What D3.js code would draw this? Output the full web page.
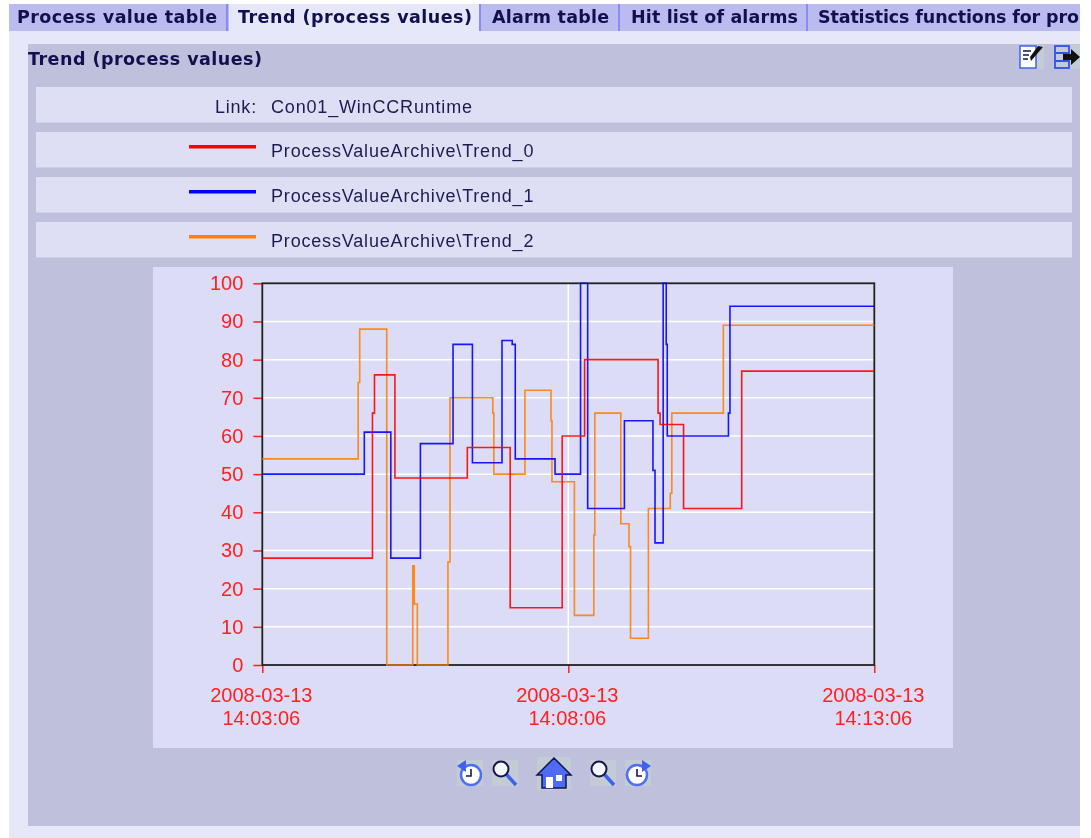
<!DOCTYPE html>
<html>
<head>
<meta charset="utf-8">
<script src="https://cdn.jsdelivr.net/npm/d3@7"></script>
<style>
  body { margin: 0; background: #fff; }
  svg { display: block; filter: blur(0.35px); }
  .tab { font: bold 17.5px "DejaVu Sans", sans-serif; fill: #10104f; }
  .row { font: 18px "Liberation Sans", sans-serif; fill: #1c1c50; letter-spacing: 0.82px; }
  .axis text { font: 20px "Liberation Sans", sans-serif; fill: #ff2020; }
  .axis line { stroke: #ff2020; stroke-width: 1.5; }
  .axis path { display: none; }
</style>
</head>
<body>
<svg id="chart" width="1080" height="838"></svg>
<script>
const tabNames = ['Process value table', 'Trend (process values)', 'Alarm table', 'Hit list of alarms', 'Statistics functions for pro'];
const tabStarts = [17, 238, 492, 631, 818];
const tabEnds = [228, 481, 620, 808, 1080];
const tabTextWidths = [200, 234, 117, 167, 261];

const seriesNames = ['ProcessValueArchive\\Trend_0', 'ProcessValueArchive\\Trend_1', 'ProcessValueArchive\\Trend_2'];
const seriesColors = ['#ff0000', '#0000ff', '#ff8000'];

const yTicks = [0, 10, 20, 30, 40, 50, 60, 70, 80, 90, 100];

// seconds after the start of the window, and the value from then on
const trend0Times = [0, 108, 110, 130, 201, 243, 294, 316, 388, 390, 413, 470, 600];
const trend0Values = [28, 66, 76, 49, 57, 15, 60, 80, 66, 63, 41, 77, 77];

const trend1Times = [0, 100, 126, 155, 187, 206, 235, 245, 248, 287, 312, 319, 355, 383, 385, 393, 396, 397, 457, 458.5, 600];
const trend1Values = [50, 61, 28, 58, 84, 53, 85, 84, 54, 50, 100, 41, 64, 51, 32, 100, 84, 60, 66, 94, 94];

const trend2Times = [0, 94, 95.5, 122, 147.5, 149, 152, 182, 184, 226, 227, 257.5, 283, 284, 306, 325, 326, 351.5, 359.5, 361, 378.5, 400, 401.5, 452, 600];
const trend2Values = [54, 74, 88, 0, 26, 16, 0, 27, 70, 66, 50, 72, 64, 48, 13, 34, 66, 37, 31, 7, 41, 45, 66, 89, 89];

const startTime = new Date(2008, 2, 13, 14, 3, 6);
const timeTicks = [0, 300, 600].map(s => d3.timeSecond.offset(startTime, s));

const svg = d3.select('#chart');

// page + tabs
svg.append('rect').attr('x', 9).attr('y', 4).attr('width', 1071).attr('height', 834).attr('fill', '#e6e7f9');
tabNames.forEach((name, i) => {
    const left = i == 0 ? 9 : tabEnds[i - 1];
    if (i != 1) {
        svg.append('rect').attr('x', left).attr('y', 4).attr('width', tabEnds[i] - left).attr('height', 27).attr('fill', '#babbee');
    }
    if (i < 4) {
        svg.append('rect').attr('x', tabEnds[i] - 2).attr('y', 4).attr('width', 2.5).attr('height', 27).attr('fill', '#8a8cf2');
    }
    svg.append('text').attr('class', 'tab').attr('x', tabStarts[i]).attr('y', 22.5)
        .attr('textLength', tabTextWidths[i]).attr('lengthAdjust', 'spacing').text(name);
});

// grey panel
svg.append('rect').attr('x', 28).attr('y', 44).attr('width', 1052).attr('height', 782).attr('fill', '#bfc0dc');
svg.append('text').attr('class', 'tab').attr('x', 28).attr('y', 64.5)
    .attr('textLength', tabTextWidths[1]).attr('lengthAdjust', 'spacing').text('Trend (process values)');

// link and legend rows
const rowTops = [87, 132, 177, 222];
rowTops.forEach(top => {
    svg.append('rect').attr('x', 36).attr('y', top).attr('width', 1036).attr('height', 35.5).attr('fill', '#dedff5');
});
svg.append('text').attr('class', 'row').attr('x', 257).attr('y', 112.5).attr('text-anchor', 'end').text('Link:');
svg.append('text').attr('class', 'row').attr('x', 271).attr('y', 112.5).text('Con01_WinCCRuntime');
seriesNames.forEach((name, i) => {
    const top = rowTops[i + 1];
    svg.append('rect').attr('x', 189).attr('y', top + 13).attr('width', 67).attr('height', 3.5).attr('fill', seriesColors[i]);
    svg.append('text').attr('class', 'row').attr('x', 271).attr('y', top + 25).text(name);
});

// chart
svg.append('rect').attr('x', 153).attr('y', 267).attr('width', 800).attr('height', 481).attr('fill', '#dcdcf6');

const x = d3.scaleTime().domain([startTime, timeTicks[2]]).range([262.3, 874.3]);
const y = d3.scaleLinear().domain([0, 100]).range([665, 283.3]);

svg.append('g').selectAll('line').data(yTicks.slice(1, -1)).enter().append('line')
    .attr('x1', x.range()[0]).attr('x2', x.range()[1])
    .attr('y1', d => y(d)).attr('y2', d => y(d))
    .attr('stroke', '#fff').attr('stroke-width', 1.5);
svg.append('line')
    .attr('x1', x(timeTicks[1])).attr('x2', x(timeTicks[1]))
    .attr('y1', y(0)).attr('y2', y(100))
    .attr('stroke', '#fff').attr('stroke-width', 1.5);

const yAxis = d3.axisLeft(y).tickValues(yTicks).tickSize(9).tickPadding(10);
svg.append('g').attr('class', 'axis').attr('transform', `translate(${x.range()[0]},0)`).call(yAxis);

const fmtDate = d3.timeFormat('%Y-%m-%d');
const fmtTime = d3.timeFormat('%H:%M:%S');
const xAxis = d3.axisBottom(x).tickValues(timeTicks).tickSize(8).tickFormat('');
const xAxisG = svg.append('g').attr('class', 'axis').attr('transform', `translate(0,${y(0)})`).call(xAxis);
xAxisG.selectAll('.tick text').each(function (d) {
    const t = d3.select(this).attr('y', 0).attr('dy', null).attr('text-anchor', 'middle');
    t.append('tspan').attr('x', -1.5).attr('y', 36.5).text(fmtDate(d));
    t.append('tspan').attr('x', -1.5).attr('y', 60).text(fmtTime(d));
});

// frame goes under the trends: the orange runs along the zero line on top of it
svg.append('rect')
    .attr('x', x.range()[0]).attr('y', y(100))
    .attr('width', x.range()[1] - x.range()[0]).attr('height', y(0) - y(100))
    .attr('fill', 'none').attr('stroke', '#222').attr('stroke-width', 1.8);

const line = d3.line()
    .x(d => x(d3.timeMillisecond.offset(startTime, d[0] * 1000)))
    .y(d => y(d[1]))
    .curve(d3.curveStepAfter);

const trends = [
    [trend2Times, trend2Values, seriesColors[2]],
    [trend1Times, trend1Values, seriesColors[1]],
    [trend0Times, trend0Values, seriesColors[0]],
];
svg.append('g').selectAll('path').data(trends).enter().append('path')
    .attr('d', d => line(d3.zip(d[0], d[1])))
    .attr('fill', 'none')
    .attr('stroke', d => d[2])
    .attr('stroke-width', 1.6)
    .attr('stroke-opacity', 0.9);

// toolbar icons
function backing(g, w, h) {
    g.append('rect').attr('width', w).attr('height', h).attr('fill', '#c3cbd4');
}
function magnifier(px, py) {
    const g = svg.append('g').attr('transform', `translate(${px},${py})`);
    backing(g, 26, 26);
    g.append('line').attr('x1', 14).attr('y1', 14).attr('x2', 24).attr('y2', 25).attr('stroke', '#3f62ee').attr('stroke-width', 3.5);
    g.append('circle').attr('cx', 9).attr('cy', 9).attr('r', 7.5).attr('fill', '#f4f6ff').attr('stroke', '#15154f').attr('stroke-width', 2);
}
function clock(px, py, flip) {
    const g = svg.append('g').attr('transform', `translate(${px},${py})`);
    backing(g, 26, 26);
    const inner = g.append('g').attr('transform', flip ? 'translate(26,0) scale(-1,1)' : null);
    inner.append('circle').attr('cx', 14).attr('cy', 15).attr('r', 10).attr('fill', '#fff').attr('stroke', '#4f6ef0').attr('stroke-width', 2.5);
    inner.append('path').attr('d', 'M0,6 L9,0 L9,12 Z').attr('fill', '#3f62ee');
    inner.append('path').attr('d', 'M14,9 V16 H9').attr('fill', 'none').attr('stroke', '#15154f').attr('stroke-width', 1.6);
}
clock(457, 760, false);
magnifier(492, 760);
magnifier(590, 760);
clock(625, 760, true);

const home = svg.append('g').attr('transform', 'translate(537,757)');
backing(home, 34, 33);
home.append('path').attr('d', 'M17,1 L34,18 L29,18 L29,31 L5,31 L5,18 L0,18 Z').attr('fill', '#4d6cf2').attr('stroke', '#15154f').attr('stroke-width', 1.5);
home.append('rect').attr('x', 9).attr('y', 20).attr('width', 7).attr('height', 11).attr('fill', '#fff');
home.append('rect').attr('x', 19).attr('y', 18).attr('width', 6).attr('height', 6).attr('fill', '#fff');

const doc = svg.append('g').attr('transform', 'translate(1019,45)');
backing(doc, 25, 24);
doc.append('rect').attr('x', 1).attr('y', 1).attr('width', 16).attr('height', 22).attr('fill', '#fff').attr('stroke', '#3f62ee').attr('stroke-width', 1.5);
doc.append('path').attr('d', 'M4,6 H12 M4,10 H10 M4,14 H9').attr('stroke', '#15154f').attr('stroke-width', 1.5);
doc.append('path').attr('d', 'M12,16 L24,2 L19,1 L11,12 Z').attr('fill', '#111');

const out = svg.append('g').attr('transform', 'translate(1054,45)');
backing(out, 26, 24);
out.append('rect').attr('x', 1).attr('y', 1).attr('width', 14).attr('height', 22).attr('fill', '#c3cbd4').attr('stroke', '#2f52ee').attr('stroke-width', 1.8);
out.append('path').attr('d', 'M1,8 H15 M1,16 H15').attr('stroke', '#2f52ee').attr('stroke-width', 1.8);
out.append('path').attr('d', 'M9,9 H17 V4 L26,12 L17,20 V15 H9 Z').attr('fill', '#111');
</script>
</body>
</html>
